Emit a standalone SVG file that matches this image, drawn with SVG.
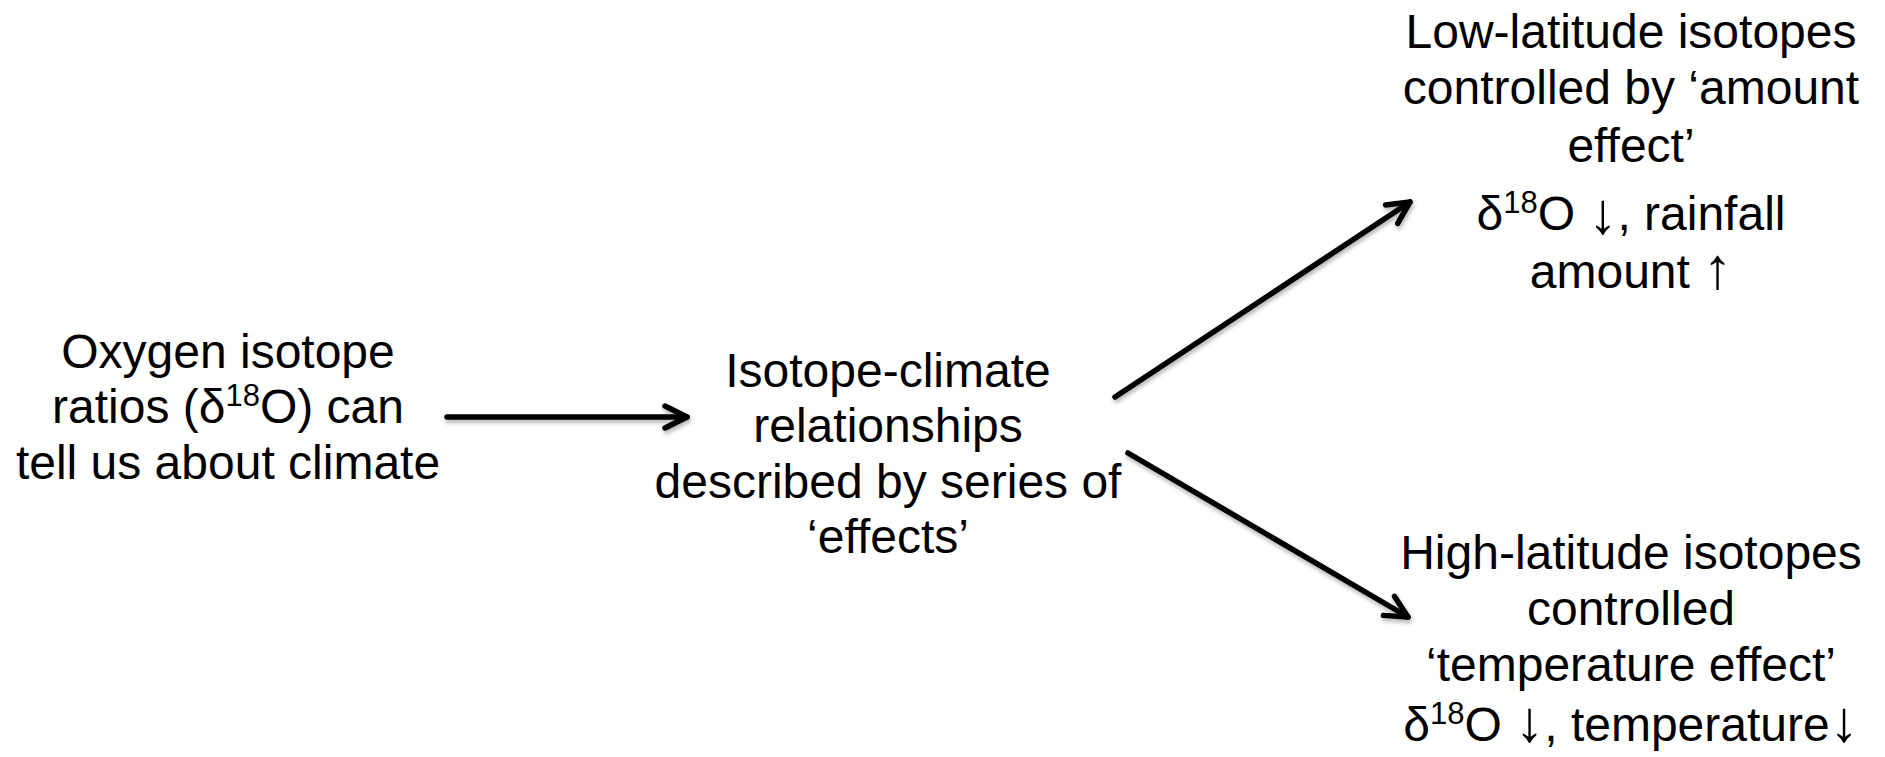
<svg xmlns="http://www.w3.org/2000/svg" width="1885" height="757" viewBox="0 0 1885 757">
<style>
  text { font-family: "Liberation Sans", Arial, Helvetica, sans-serif; font-size: 48px; fill: #000; text-anchor: middle; }
  .sup { font-size: 31px; }
  .arr { font-size: 58px; }
  .conn { fill: none; stroke: #000; stroke-width: 5.5; stroke-linecap: round; stroke-linejoin: round; }
</style>
<defs>
  <filter id="shadow" x="-10%" y="-30%" width="120%" height="160%">
    <feDropShadow dx="1" dy="3" stdDeviation="2" flood-color="#000" flood-opacity="0.3"/>
  </filter>
  <marker id="ah" markerUnits="userSpaceOnUse" markerWidth="40" markerHeight="40" viewBox="-30 -20 40 40" refX="0" refY="0" orient="auto">
    <path d="M-22,-11 L0,0 L-22,11" fill="none" stroke="#000" stroke-width="5.5" stroke-linecap="round" stroke-linejoin="round"/>
  </marker>
</defs>
<rect width="1885" height="757" fill="#fff"/>

<g id="connectors" filter="url(#shadow)">
  <path class="conn" d="M447,417 L687,417" marker-end="url(#ah)"/>
  <path class="conn" d="M1115,397 L1410,202" marker-end="url(#ah)"/>
  <path class="conn" d="M1128,453 L1408,617" marker-end="url(#ah)"/>
</g>

<g id="node-oxygen">
  <text x="228" y="368">Oxygen isotope</text>
  <text x="228" y="423">ratios (δ<tspan class="sup" dy="-17">18</tspan><tspan dy="17">O) can</tspan></text>
  <text x="228" y="479">tell us about climate</text>
</g>

<g id="node-relationships">
  <text x="888" y="387">Isotope-climate</text>
  <text x="888" y="442">relationships</text>
  <text x="888" y="498">described by series of</text>
  <text x="888" y="553">‘effects’</text>
</g>

<g id="node-low-latitude">
  <text x="1631" y="48">Low-latitude isotopes</text>
  <text x="1631" y="104">controlled by ‘amount</text>
  <text x="1631" y="162">effect’</text>
  <text x="1631" y="230">δ<tspan class="sup" dy="-17">18</tspan><tspan dy="17">O </tspan><tspan class="arr" dy="3">↓</tspan><tspan dy="-3">, rainfall</tspan></text>
  <text x="1631" y="288">amount <tspan class="arr">↑</tspan></text>
</g>

<g id="node-high-latitude">
  <text x="1631" y="569">High-latitude isotopes</text>
  <text x="1631" y="625">controlled</text>
  <text x="1631" y="681">‘temperature effect’</text>
  <text x="1631" y="741">δ<tspan class="sup" dy="-17">18</tspan><tspan dy="17">O </tspan><tspan class="arr">↓</tspan><tspan>, temperature</tspan><tspan class="arr">↓</tspan></text>
</g>
</svg>
